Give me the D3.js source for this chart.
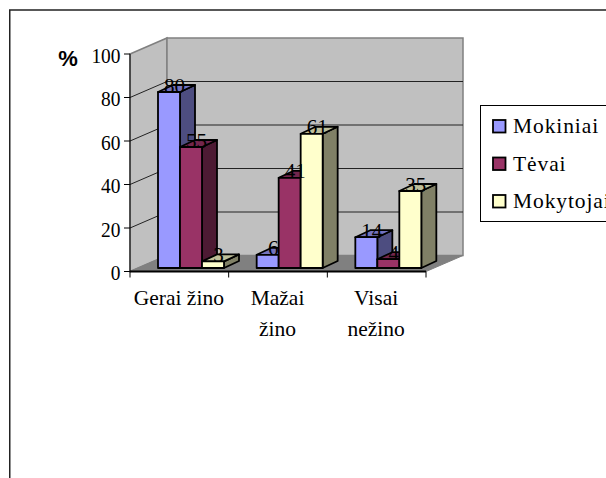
<!DOCTYPE html>
<html><head><meta charset="utf-8">
<script src="https://cdn.jsdelivr.net/npm/d3@7/dist/d3.min.js"></script>
<style>html,body{margin:0;padding:0;background:#fff}svg{display:block}</style>
</head><body><svg id="c" width="606" height="478"></svg>
<script>
const categories = [["Gerai žino"],["Mažai","žino"],["Visai","nežino"]];
const categoryKeys = ["Gerai žino","Mažai žino","Visai nežino"];
const seriesNames = ["Mokiniai","Tėvai","Mokytojai"];
const mokiniai = [80,6,14];
const tevai = [55,41,4];
const mokytojai = [3,61,35];
const yTicks = [0,20,40,60,80,100];
const fills = ["#9999ff","#993366","#ffffcc"];
const sides = ["#4d4d80","#4d1a33","#808066"];
const tops = ["#7373bf","#73264d","#bfbf99"];
const serif = "'Liberation Serif','Times New Roman',serif";

const svg = d3.select("#c");
const x0=130,x1=426,yB=271.5,yT=54,dx=37,dy=-16;
const yAxis = d3.scaleLinear().domain([0,100]).range([yB,yT]);
const xAxis = d3.scaleBand().domain(categoryKeys).range([x0,x1]);
const xBar = d3.scaleBand().domain(categoryKeys).range([x0+12,x1+12]);
const xSub = d3.scaleBand().domain([0,1,2]).range([16,82]);
const yBar = d3.scaleLinear().domain([0,100]).range([268,48]);
const bdx=15, bdy=-7;
const pts = a=>a.map(p=>p.join(",")).join(" ");

// frame
svg.append("rect").attr("x",9.75).attr("y",10).attr("width",640).attr("height",500).attr("fill","#fff").attr("stroke","#222").attr("stroke-width",1.5);

// walls
svg.append("polygon").attr("points",pts([[x0,yT],[x0+dx,yT+dy],[x0+dx,yB+dy],[x0,yB]])).attr("fill","#c0c0c0").attr("stroke","#808080").attr("stroke-width",1.5);
svg.append("polygon").attr("points",pts([[x0+dx,yT+dy],[x1+dx,yT+dy],[x1+dx,yB+dy],[x0+dx,yB+dy]])).attr("fill","#c0c0c0").attr("stroke","#808080").attr("stroke-width",1.5);
svg.append("polygon").attr("points",pts([[x0,yB],[x0+dx,yB+dy],[x1+dx,yB+dy],[x1,yB]])).attr("fill","#808080").attr("stroke","#808080");

// gridlines
yTicks.slice(1,-1).forEach(t=>{
  const y=yAxis(t);
  svg.append("polyline").attr("points",pts([[x0,y],[x0+dx,y+dy],[x1+dx,y+dy]])).attr("fill","none").attr("stroke","#222");
});

// axes
svg.append("line").attr("x1",x0).attr("x2",x0).attr("y1",yT).attr("y2",yB).attr("stroke","#000");
svg.append("line").attr("x1",x0).attr("x2",x1).attr("y1",yB).attr("y2",yB).attr("stroke","#000").attr("stroke-width",2);
yTicks.forEach(t=>{
  const y=yAxis(t), s=String(t);
  svg.append("line").attr("x1",x0-6).attr("x2",x0).attr("y1",y).attr("y2",y).attr("stroke","#000");
  svg.append("text").attr("x",x0-9.5).attr("y",y+8.5).attr("text-anchor","end").attr("font-family",serif).attr("font-size",21)
    .attr("textLength",s.length*9.7).attr("lengthAdjust","spacingAndGlyphs").text(s);
});
[0,1,2,3].forEach(i=>{
  const x = i<3 ? xAxis(categoryKeys[i]) : x1;
  svg.append("line").attr("x1",x).attr("x2",x).attr("y1",yB).attr("y2",yB+6).attr("stroke","#000");
});
categoryKeys.forEach((k,i)=>{
  categories[i].forEach((line,j)=>{
    svg.append("text").attr("x",xAxis(k)+xAxis.bandwidth()/2-0.5).attr("y",305+j*31).attr("text-anchor","middle").attr("font-family",serif).attr("font-size",21.5).text(line);
  });
});
svg.append("text").attr("x",68).attr("y",66).attr("text-anchor","middle").attr("font-family","'Liberation Sans',Arial,sans-serif").attr("font-weight","bold").attr("font-size",22).text("%");

// bars
const seriesVals=[mokiniai,tevai,mokytojai];
categoryKeys.forEach((k,c)=>{
  seriesVals.forEach((vals,s)=>{
    const l=xBar(k)+xSub(s), r=l+xSub.bandwidth(), t=yBar(vals[c]), b=yBar(0);
    const g=svg.append("g").attr("stroke","#000").attr("stroke-width",1.8).attr("stroke-linejoin","round");
    g.append("polygon").attr("points",pts([[r,t],[r+bdx,t+bdy],[r+bdx,b+bdy],[r,b]])).attr("fill",sides[s]);
    g.append("polygon").attr("points",pts([[l,t],[l+bdx,t+bdy],[r+bdx,t+bdy],[r,t]])).attr("fill",tops[s]);
    g.append("rect").attr("x",l).attr("y",t).attr("width",r-l).attr("height",b-t).attr("fill",fills[s]);
  });
});
// labels
categoryKeys.forEach((k,c)=>{
  seriesVals.forEach((vals,s)=>{
    const l=xBar(k)+xSub(s);
    svg.append("text").attr("x",l+xSub.bandwidth()/2+5.5).attr("y",yBar(vals[c])+0.5)
      .attr("text-anchor","middle").attr("font-family",serif).attr("font-size",21).attr("fill","#000").text(vals[c]);
  });
});

// legend
svg.append("rect").attr("x",480.5).attr("y",105.5).attr("width",140).attr("height",116).attr("fill","#fff").attr("stroke","#000");
seriesNames.forEach((n,i)=>{
  const y=126+i*37.5;
  svg.append("rect").attr("x",493).attr("y",y-6).attr("width",12.5).attr("height",12.5).attr("fill",fills[i]).attr("stroke","#000").attr("stroke-width",1.8);
  svg.append("text").attr("x",513).attr("y",y+7).attr("font-family",serif).attr("font-size",21.5).attr("letter-spacing",0.9).text(n);
});
</script></body></html>
